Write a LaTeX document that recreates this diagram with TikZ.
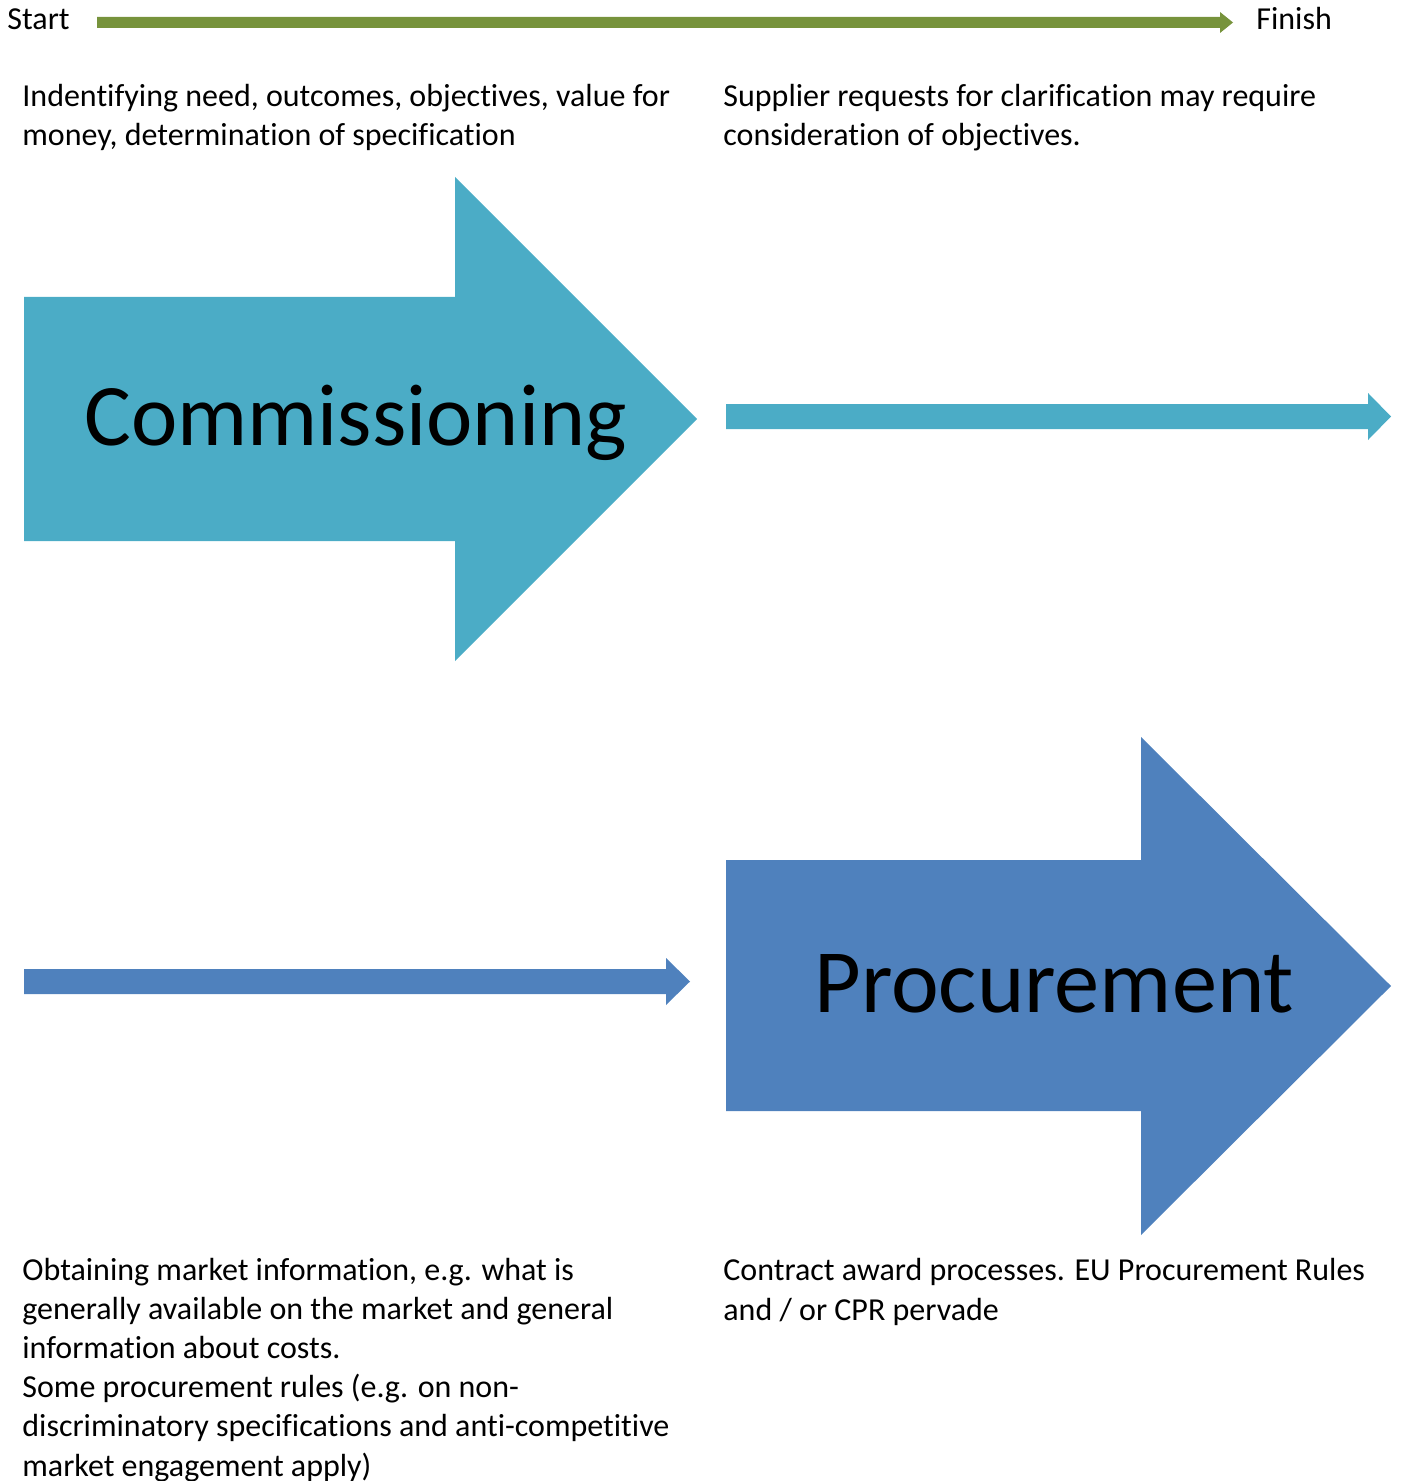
\documentclass[tikz,border=0pt]{standalone}
\usepackage{fontspec}
\setmainfont{Carlito}[Ligatures=NoCommon]
\definecolor{timeline}{RGB}{119,147,60}
\definecolor{commcol}{RGB}{75,172,198}
\definecolor{proccol}{RGB}{79,129,189}

\begin{document}
\begin{tikzpicture}[x=0.5pt,y=-0.5pt]
   \tikzset{txt/.style={anchor=base west,inner sep=0pt,align=left,
      font=\fontsize{16}{19.6}\selectfont}}
   \tikzset{bigtxt/.style={anchor=base west,inner sep=0pt}}
   \useasboundingbox (0,0) rectangle (1407,1481);
   \fill[timeline] (97,17) -- (1220,17) -- (1220,12) -- (1233,22.5) -- (1220,33) -- (1220,28) -- (97,28) -- cycle;
   \node[txt] (start) at (7,30) {Start};
   \node[txt] (finish) at (1256,30) {Finish};
   \node[txt] (need) at (22,146) {Indentifying need, outcomes, objectives, value for\\money, determination of specification};
   \node[txt] (supplier) at (723,146) {Supplier requests for clarification may require\\consideration of objectives.};
   \fill[commcol] (24,297) -- (455,297) -- (455,177) -- (697,419) -- (455,661) -- (455,541) -- (24,541) -- cycle;
   \node[bigtxt,font=\fontsize{43.9}{50}\selectfont] (comm) at (84,445) {Commissioning};
   \fill[commcol] (726,404) -- (1368,404) -- (1368,393) -- (1391,416.5) -- (1368,440) -- (1368,429) -- (726,429) -- cycle;
   \fill[proccol] (24,969) -- (666,969) -- (666,958) -- (690,981.5) -- (666,1005) -- (666,994) -- (24,994) -- cycle;
   \fill[proccol] (726,860) -- (1141,860) -- (1141,737) -- (1391,986) -- (1141,1235) -- (1141,1111) -- (726,1111) -- cycle;
   \node[bigtxt,font=\fontsize{45.2}{50}\selectfont] (proc) at (814,1012) {Procurement};
   \node[txt] (market) at (22,1476) {Obtaining market information, e.g. what is\\generally available on the market and general\\information about costs.\\Some procurement rules (e.g. on non-\\discriminatory specifications and anti-competitive\\market engagement apply)};
   \node[txt] (award) at (723,1320) {Contract award processes. EU Procurement Rules\\and / or CPR pervade};
\end{tikzpicture}
\end{document}
